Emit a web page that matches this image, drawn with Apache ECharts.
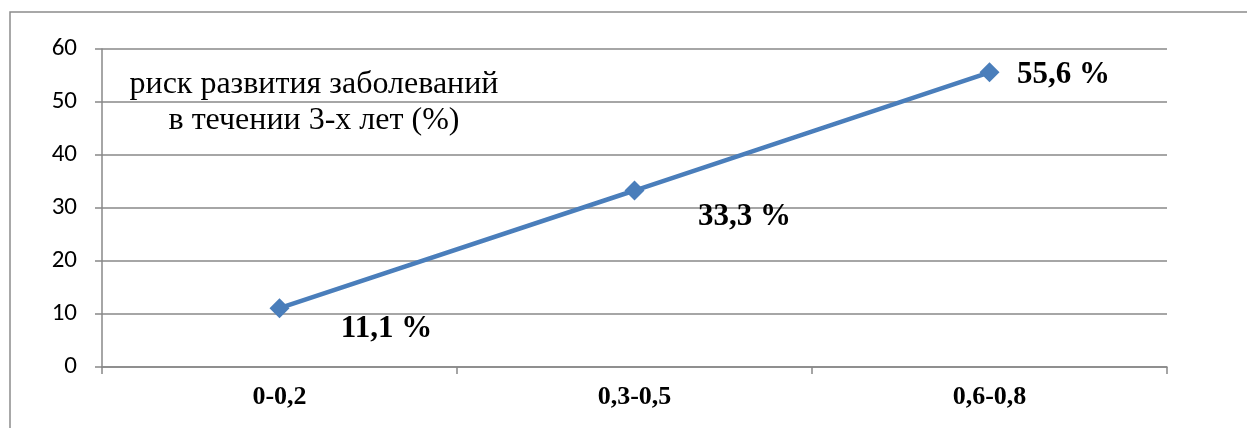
<!DOCTYPE html>
<html>
<head>
<meta charset="utf-8">
<script src="https://cdn.jsdelivr.net/npm/echarts@6/dist/echarts.min.js"></script>
<style>
  html, body { margin: 0; padding: 0; background: #fff; }
  #chart { width: 1247px; height: 428px; }
</style>
</head>
<body>
<div id="chart"></div>
<script>
// Risk groups and the share of patients who developed disease within 3 years
const categories = ['0-0,2', '0,3-0,5', '0,6-0,8'];
const riskValues = [11.1, 33.3, 55.6];
const valueLabels = ['11,1 %', '33,3 %', '55,6 %'];
const yTicks = [0, 10, 20, 30, 40, 50, 60];
const titleLines = ['риск развития заболеваний', 'в течении 3-х лет (%)'];

const serif = '"Liberation Serif", "Times New Roman", serif';
const labelOffsets = [[107, 21], [110, 26], [74, 3]];

const chart = echarts.init(document.getElementById('chart'));
chart.setOption({
  animation: false,
  grid: { left: 102, right: 80, top: 49, bottom: 61 },
  graphic: [
    {
      type: 'rect',
      shape: { x: 10, y: 12, width: 1250, height: 430 },
      style: { fill: 'none', stroke: '#8c8c8c', lineWidth: 1.5 }
    },
    {
      type: 'text',
      x: 314, y: 67,
      style: {
        text: titleLines.join('\n'),
        font: '32px ' + serif,
        fill: '#000',
        align: 'center',
        verticalAlign: 'top',
        lineHeight: 36
      }
    }
  ],
  xAxis: {
    type: 'category',
    data: categories,
    boundaryGap: true,
    axisLine: { lineStyle: { color: '#888', width: 1.5 } },
    axisTick: { show: true, length: 7, lineStyle: { color: '#888', width: 1.5 } },
    axisLabel: {
      margin: 17,
      fontFamily: serif,
      fontWeight: 'bold',
      fontSize: 26,
      color: '#000'
    }
  },
  yAxis: {
    type: 'value',
    min: yTicks[0],
    max: yTicks[yTicks.length - 1],
    interval: 10,
    axisLine: { show: true, lineStyle: { color: '#888', width: 1.5 } },
    axisTick: { show: true, length: 7, lineStyle: { color: '#888', width: 1.5 } },
    splitLine: { lineStyle: { color: '#888', width: 1.5 } },
    axisLabel: {
      margin: 25,
      fontFamily: 'Carlito, "Open Sans", "Noto Sans", sans-serif',
      fontSize: 25,
      color: '#000'
    }
  },
  series: [{
    type: 'line',
    data: riskValues.map((v, i) => ({
      value: v,
      label: {
        show: true,
        position: 'inside',
        offset: labelOffsets[i],
        formatter: () => valueLabels[i]
      }
    })),
    symbol: 'diamond',
    symbolSize: 20,
    lineStyle: { color: '#4A7EBB', width: 4.5 },
    itemStyle: { color: '#4A7EBB' },
    label: {
      fontFamily: serif,
      fontWeight: 'bold',
      fontSize: 31,
      color: '#000'
    }
  }]
});
</script>
</body>
</html>
